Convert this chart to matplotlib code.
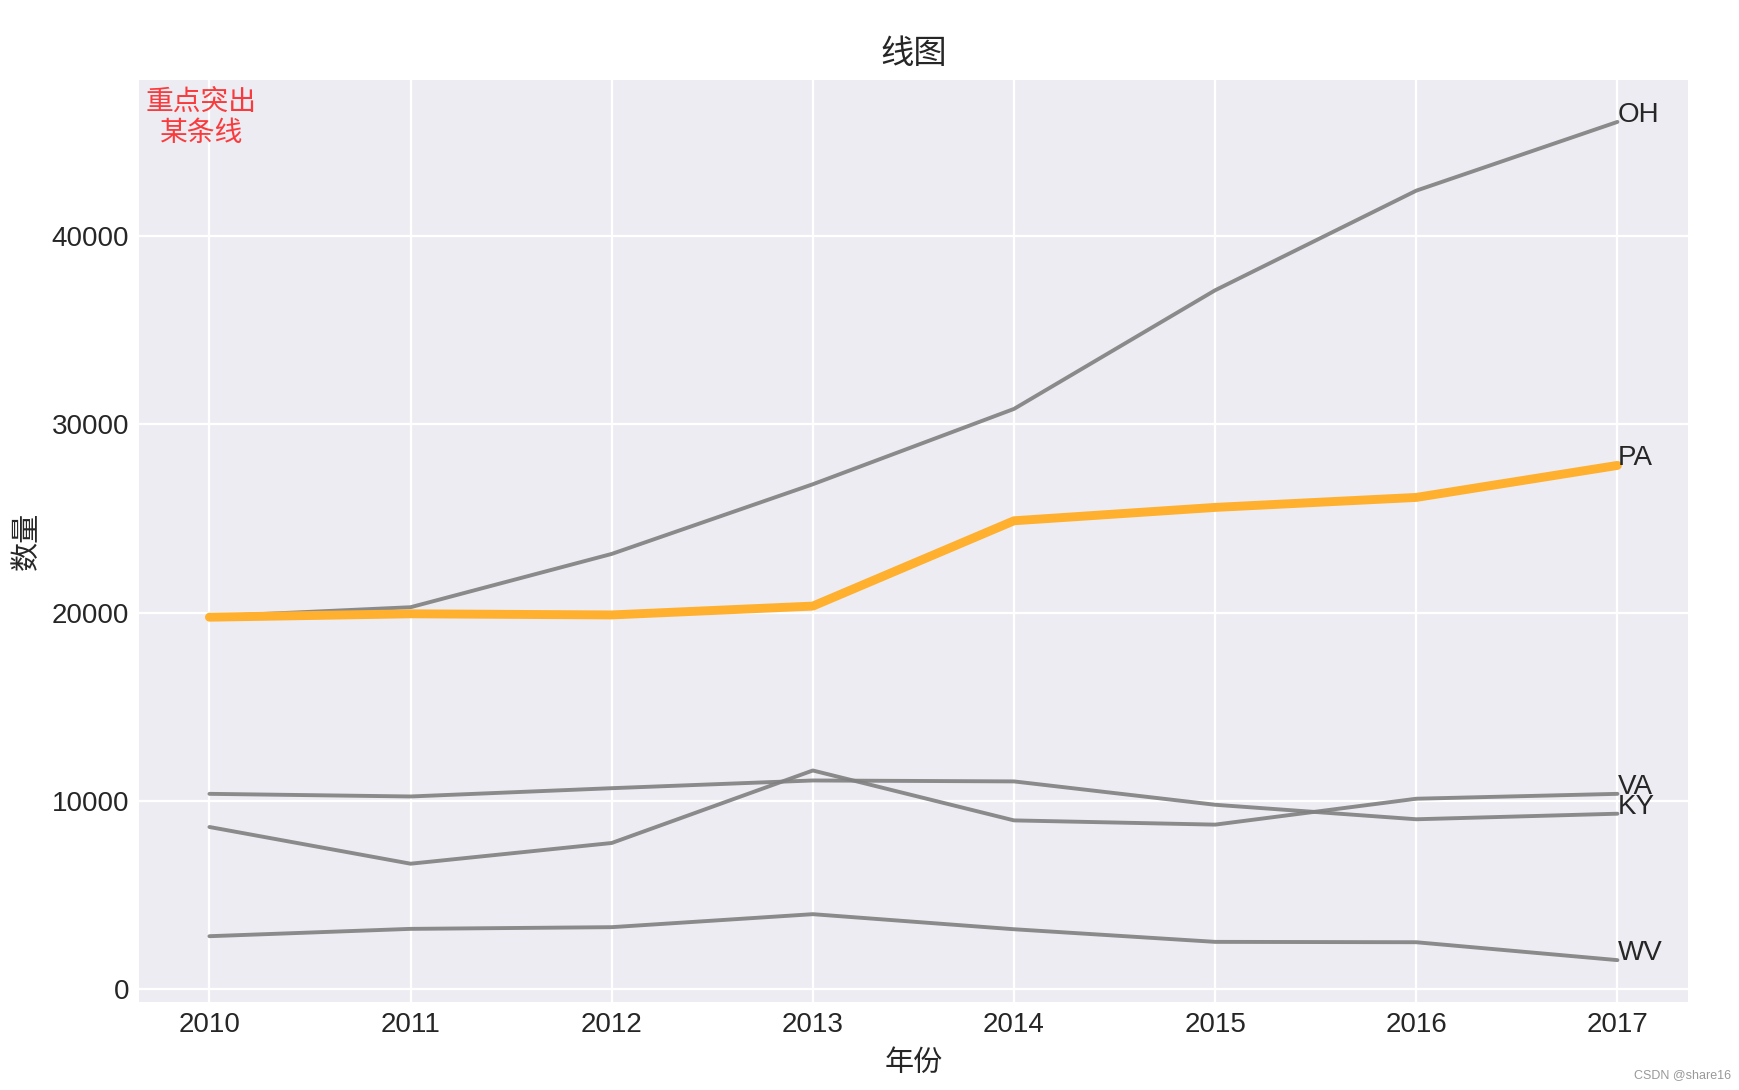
import matplotlib
matplotlib.use("Agg")
import matplotlib.pyplot as plt

# data
years = [2010, 2011, 2012, 2013, 2014, 2015, 2016, 2017]
oh = [19800, 20290, 23120, 26820, 30820, 37120, 42410, 46060]
pa = [19760, 19940, 19880, 20350, 24880, 25590, 26120, 27820]
va = [8620, 6670, 7770, 11620, 8970, 8745, 10120, 10380]
ky = [10380, 10240, 10680, 11090, 11040, 9800, 9030, 9325]
wv = [2820, 3210, 3300, 3990, 3190, 2520, 2500, 1550]

states = ["OH", "PA", "VA", "KY", "WV"]
series = [oh, pa, va, ky, wv]
highlight = "PA"

plt.style.use("seaborn-v0_8-darkgrid")
plt.rcParams["font.family"] = ["Liberation Sans", "Noto Sans CJK SC", "DejaVu Sans"]
plt.rcParams["axes.unicode_minus"] = False

fig = plt.figure(figsize=(8.7, 5.45), dpi=200)
ax = fig.add_axes([0.0799, 0.0807, 0.8901, 0.8459])
ax.set_facecolor("#ECECF2")

for name, vals in zip(states, series):
    if name == highlight:
        continue
    ax.plot(years, vals, color="grey", linewidth=1.4, alpha=0.9,
            solid_capstyle="round")
for name, vals in zip(states, series):
    if name != highlight:
        continue
    ax.plot(years, vals, color="#FFB02E", linewidth=3.2,
            solid_capstyle="round", zorder=3)

for name, vals in zip(states, series):
    ax.text(years[-1], vals[-1], name, fontsize=10, color="#262626")

ax.text(2009.96, 44750, "重点突出\n某条线", fontsize=10, color="red", alpha=0.75,
        ha="center", va="bottom", multialignment="center")

ax.tick_params(labelsize=10, colors="#262626")
ax.set_title("线图", fontsize=12, color="#262626")
ax.set_xlabel("年份", fontsize=10.5, color="#262626")
ax.set_ylabel("数量", fontsize=10.5, color="#262626")

fig.text(0.995, 0.008, "CSDN @share16", fontsize=4.5, color="#999999", ha="right", va="bottom")

fig.savefig("out.png", dpi=200)
